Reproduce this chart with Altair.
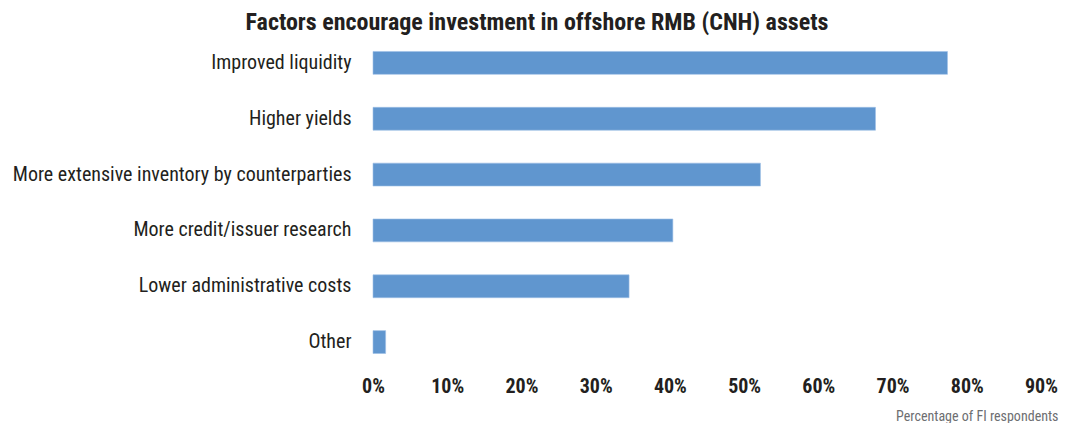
import altair as alt
import pandas as pd

factors = [
    "Improved liquidity",
    "Higher yields",
    "More extensive inventory by counterparties",
    "More credit/issuer research",
    "Lower administrative costs",
    "Other",
]
shares = [0.774, 0.677, 0.522, 0.404, 0.345, 0.017]
tick_values = [0, 0.1, 0.2, 0.3, 0.4, 0.5, 0.6, 0.7, 0.8, 0.9]

df = pd.DataFrame({"factor": factors, "share": shares})

FONT = "Liberation Sans Narrow, Roboto Condensed, DejaVu Sans Condensed, Arial Narrow, sans-serif"

chart = (
    alt.Chart(df)
    .mark_bar(color="#6096CF", stroke="#9dc0e6", strokeWidth=0.6)
    .encode(
        x=alt.X(
            "share:Q",
            scale=alt.Scale(domain=[0, 0.9], nice=False, zero=True),
            axis=alt.Axis(
                values=tick_values,
                format=".0%",
                grid=False,
                ticks=False,
                domain=False,
                labelFont=FONT,
                labelFontWeight="bold",
                labelFontSize=20,
                labelColor="#231F20",
                labelPadding=6,
                labelFlush=False,
                title="Percentage of FI respondents",
                titleFont=FONT,
                titleFontWeight="normal",
                titleFontSize=14,
                titleColor="#6D6E71",
                titleAnchor="end",
                titleAlign="right",
                titleX=685,
                titleY=50,
                titleBaseline="alphabetic",
            ),
        ),
        y=alt.Y(
            "factor:N",
            sort=factors,
            scale=alt.Scale(paddingInner=0.59),
            axis=alt.Axis(
                title=None,
                ticks=False,
                domain=False,
                grid=False,
                labelFont=FONT,
                labelFontSize=20,
                labelColor="#231F20",
                labelPadding=22,
                labelLimit=400,
            ),
        ),
    )
    .properties(
        width=668,
        height=335,
        title=alt.TitleParams(
            "Factors encourage investment in offshore RMB (CNH) assets",
            font=FONT,
            fontWeight="bold",
            fontSize=24,
            color="#231F20",
            anchor="middle",
            dx=-170,
            offset=0,
        ),
        autosize=alt.AutoSizeParams(type="none"),
        padding={"left": 365, "top": 27, "right": 26, "bottom": 53},
    )
    .configure_view(stroke=None)
)

chart.save("out.html", embed_options={"renderer": "svg", "actions": False})
